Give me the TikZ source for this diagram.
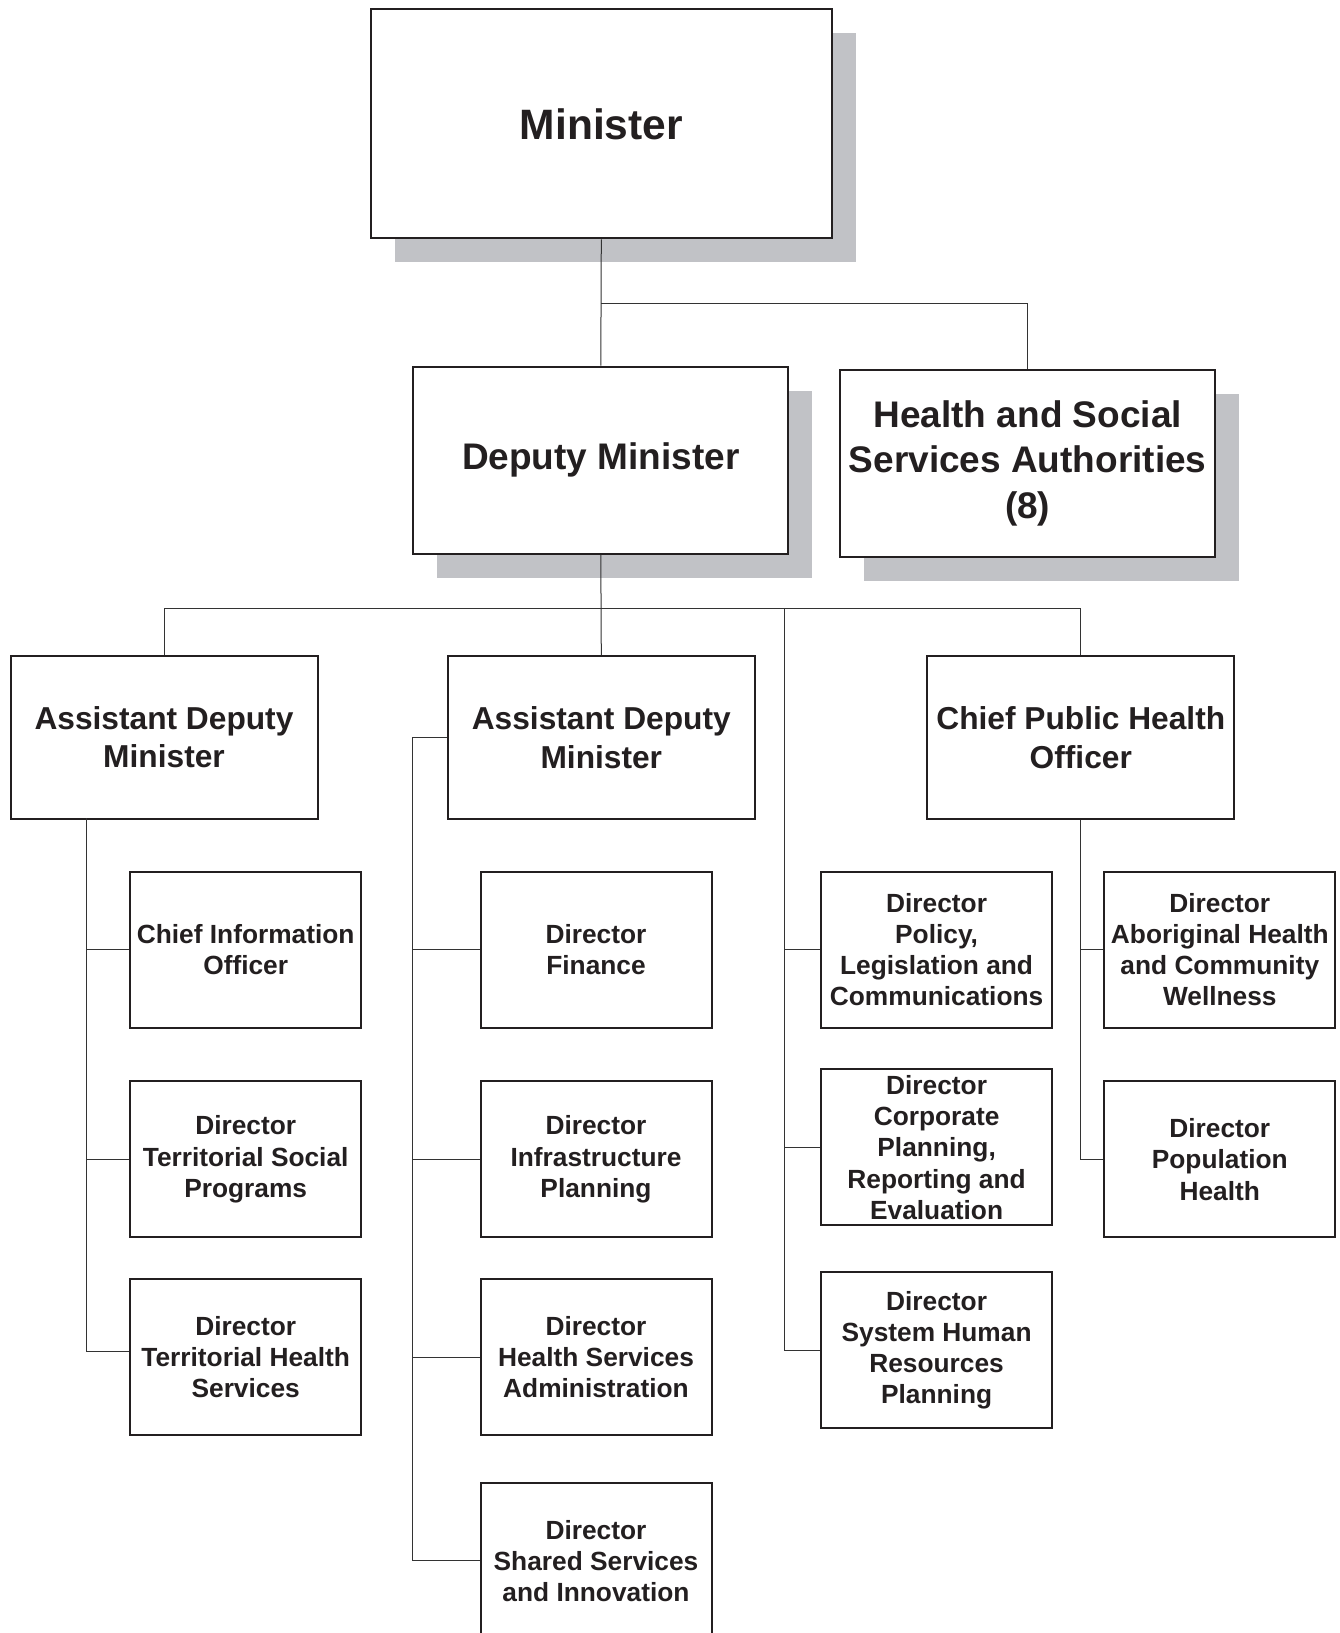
\documentclass[tikz,border=0pt]{standalone}
\usepackage{fontspec}
\setmainfont{Liberation Sans}
\usetikzlibrary{shadows}
\definecolor{shadowgray}{RGB}{193,194,198}
\definecolor{inkblack}{RGB}{35,31,32}
\tikzset{
  orgbox/.style={draw=inkblack, line width=2pt, fill=white, align=center, inner sep=0pt, text=inkblack, font=\bfseries},
  topbox/.style={orgbox, drop shadow={shadow xshift=24pt, shadow yshift=-24pt, fill=shadowgray, opacity=1}},
  adm/.style={orgbox, minimum width=307pt, minimum height=163pt, font=\bfseries\fontsize{31.7}{38.5}\selectfont},
  dir/.style={orgbox, minimum width=231pt, minimum height=156pt, font=\bfseries\fontsize{26.3}{31.2}\selectfont},
  link/.style={draw=black!80, line width=1pt}
}
\begin{document}
\begin{tikzpicture}[x=1pt, y=-1pt]
        \useasboundingbox (0,0) rectangle (1340,1633);
        % top of the chart
        \node[topbox, minimum width=461pt, minimum height=229pt, font=\bfseries\fontsize{42.5}{50}\selectfont] (min) at (601.3,123.9) {Minister};
        \node[topbox, minimum width=375pt, minimum height=187pt, font=\bfseries\fontsize{37}{45.8}\selectfont] (dep) at (600.8,460.2) {Deputy Minister};
        \node[topbox, minimum width=375pt, minimum height=187pt, font=\bfseries\fontsize{37}{45.8}\selectfont] (hssa) at (1027.7,463.3) {Health and Social\\Services Authorities\\(8)};
        \coordinate (minfork) at (600.8,303);
        \draw[link] (min.south) -- (dep.north);
        \draw[link] (minfork) -| (hssa.north);

        % second row
        \node[adm] (adma) at (164,737.2) {Assistant Deputy\\Minister};
        \node[adm] (admb) at (601.3,737.7) {Assistant Deputy\\Minister};
        \node[adm] (cpho) at (1080.8,737.7) {Chief Public Health\\Officer};
        \coordinate (depbus) at (600.8,608.1);
        \coordinate (poltrunk) at (784,608.1);
        \draw[link] (dep.south) -- (admb.north);
        \draw[link] (adma.north) -- (adma.north |- depbus) -- (cpho.north |- depbus) -- (cpho.north);

        % directors
        \node[dir] (cio) at (245.7,949.6) {Chief Information\\Officer};
        \node[dir] (dirsoc) at (245.7,1159.4) {Director\\Territorial Social\\Programs};
        \node[dir] (dirths) at (245.7,1357.2) {Director\\Territorial Health\\Services};
        \node[dir] (dirfin) at (596,949.6) {Director\\Finance};
        \node[dir] (dirinf) at (596,1159.4) {Director\\Infrastructure\\Planning};
        \node[dir] (dirhsa) at (596,1357.2) {Director\\Health Services\\Administration};
        \node[dir] (dirssi) at (596,1560.8) {Director\\Shared Services\\and Innovation};
        \node[dir] (dirpol) at (936.6,949.6) {Director\\Policy,\\Legislation and\\Communications};
        \node[dir] (dircorp) at (936.6,1147.4) {Director\\Corporate\\Planning,\\Reporting and\\Evaluation};
        \node[dir] (dirhr) at (936.6,1350.4) {Director\\System Human\\Resources\\Planning};
        \node[dir] (dirabo) at (1219.8,949.6) {Director\\Aboriginal Health\\and Community\\Wellness};
        \node[dir] (dirpop) at (1219.8,1159.4) {Director\\Population\\Health};

        \coordinate (atrunk) at (86.4,818.4);
        \coordinate (btrunk) at (412.3,737.7);
        \draw[link] (atrunk) |- (cio.west);
        \draw[link] (atrunk) |- (dirsoc.west);
        \draw[link] (atrunk) |- ([yshift=5.7pt]dirths.west);
        \draw[link] (admb.west) -- (btrunk) |- (dirssi.west);
        \draw[link] (btrunk) |- (dirfin.west);
        \draw[link] (btrunk) |- (dirinf.west);
        \draw[link] (btrunk) |- (dirhsa.west);
        \draw[link] (poltrunk) |- (dirhr.west);
        \draw[link] (poltrunk) |- (dircorp.west);
        \draw[link] (poltrunk) |- (dirpol.west);
        \draw[link] (cpho.south) |- (dirabo.west);
        \draw[link] (cpho.south) |- (dirpop.west);
\end{tikzpicture}
\end{document}
